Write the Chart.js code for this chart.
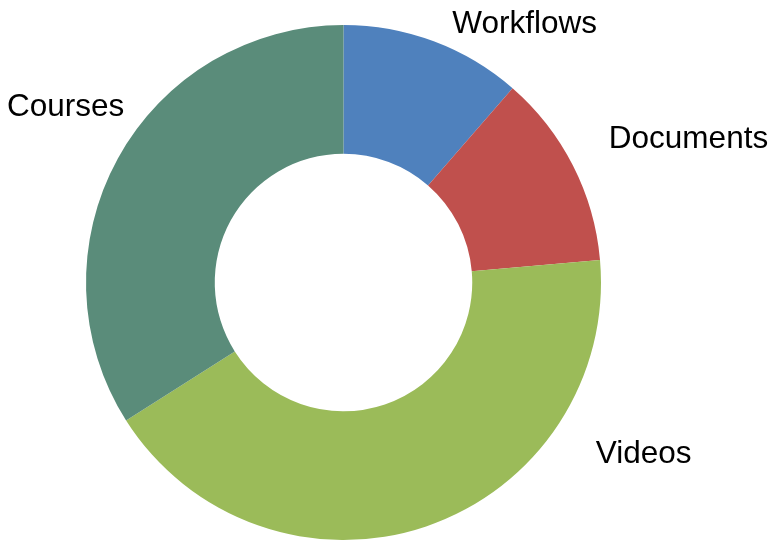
<!DOCTYPE html>
<html>
<head>
<meta charset="utf-8">
<script src="https://cdn.jsdelivr.net/npm/chart.js@4/dist/chart.umd.min.js"></script>
<style>
  html, body { margin: 0; padding: 0; background: #fff; }
  #wrap { width: 768px; height: 542px; }
</style>
</head>
<body>
<div id="wrap"><canvas id="contentPie"></canvas></div>
<script>
// categories and shares (percent of total)
var categories = ["Workflows", "Documents", "Videos", "Courses"];
var shares = [11.4, 12.2, 42.4, 34.0];
var sliceColors = ["#4F81BD", "#C0504D", "#9BBB59", "#5A8C7A"];

// label anchors: angle (deg, clockwise from top) and distance in outer radii
var labelAngles = [36.0, 68.7, 121.0, 300.9];
var labelDistances = [1.197, 1.438, 1.360, 1.258];

// draw the category names outside the ring
var outsideLabels = {
  id: "outsideLabels",
  afterDatasetsDraw: function(chart) {
    var ctx = chart.ctx;
    var arc = chart.getDatasetMeta(0).data[0];
    var cx = arc.x, cy = arc.y, r = arc.outerRadius;
    ctx.save();
    ctx.font = "31.5px 'Liberation Sans', Arial, sans-serif";
    ctx.fillStyle = "#000";
    ctx.textAlign = "center";
    ctx.textBaseline = "alphabetic";
    for (var i = 0; i < categories.length; i++) {
      var a = labelAngles[i] * Math.PI / 180;
      var d = labelDistances[i] * r;
      ctx.fillText(categories[i], cx + Math.sin(a) * d, cy - Math.cos(a) * d);
    }
    ctx.restore();
  }
};

var ctx = document.getElementById("contentPie").getContext("2d");
var myPieChart = new Chart(ctx, {
  type: "doughnut",
  data: {
    labels: categories,
    datasets: [{
      data: shares,
      backgroundColor: sliceColors,
      borderWidth: 0
    }]
  },
  options: {
    responsive: true,
    maintainAspectRatio: false,
    animation: false,
    cutout: "50%",
    layout: { padding: { top: 25, bottom: 2, left: 0, right: 81 } },
    plugins: {
      legend: { display: false },
      tooltip: { enabled: false }
    }
  },
  plugins: [outsideLabels]
});
</script>
</body>
</html>
